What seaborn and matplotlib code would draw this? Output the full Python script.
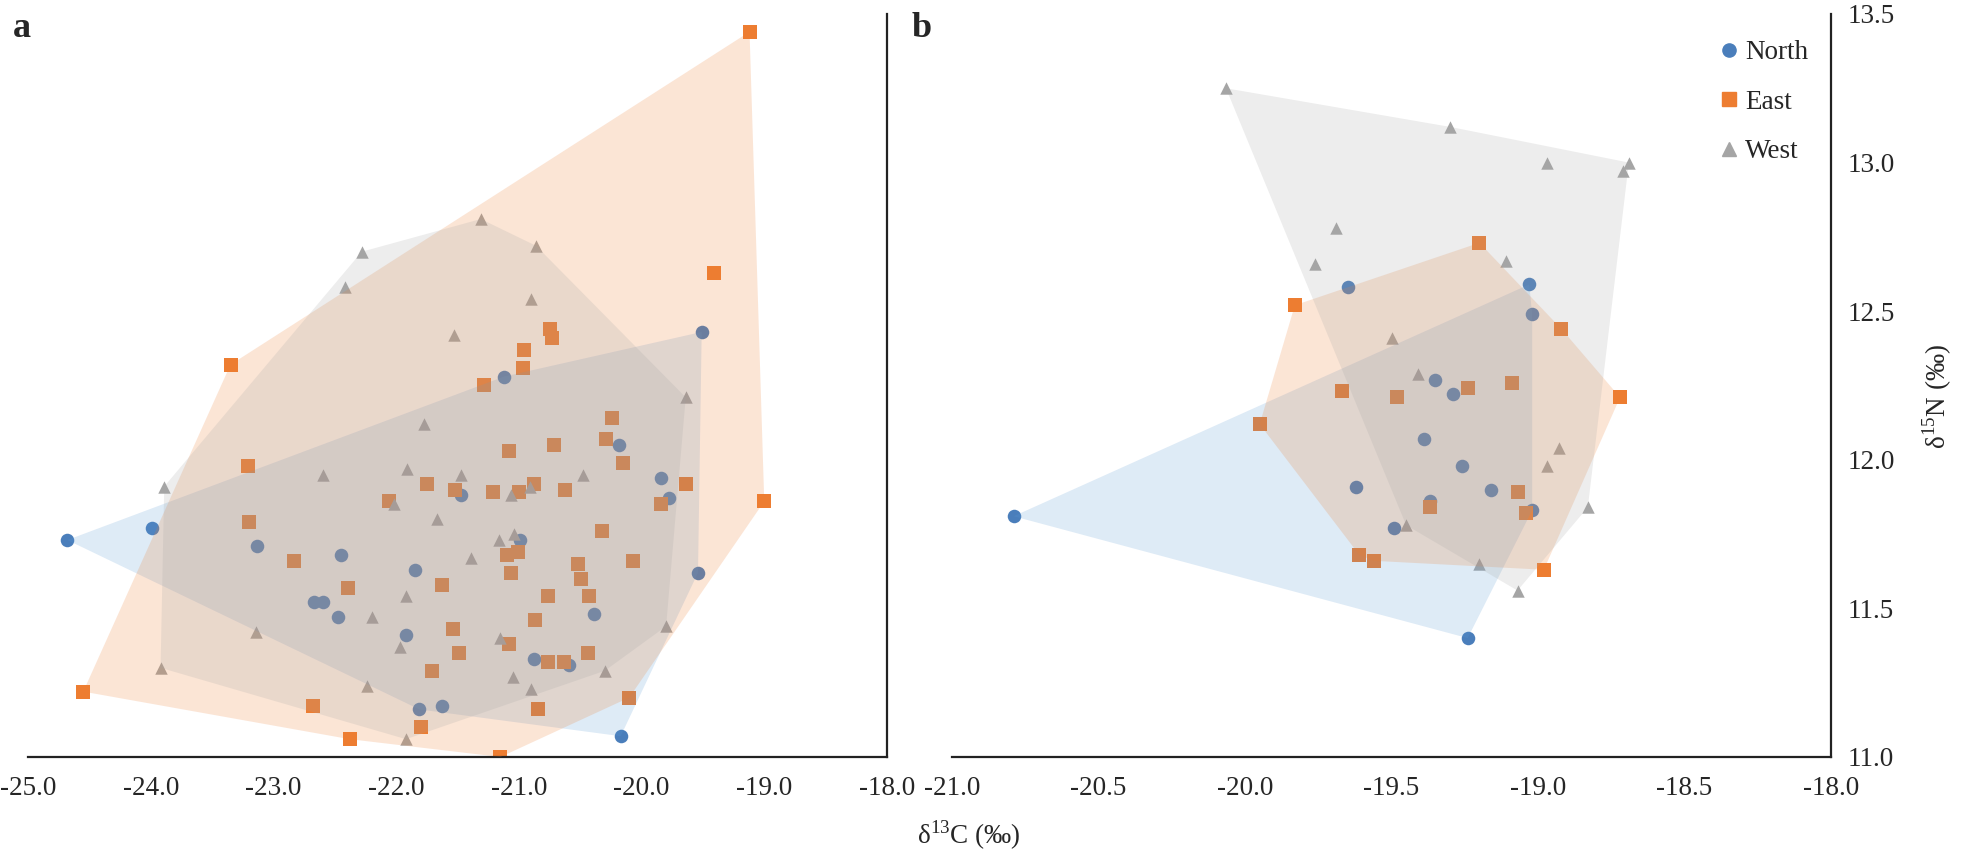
import numpy as np
import pandas as pd
import matplotlib
matplotlib.use('Agg')
import matplotlib.pyplot as plt
from matplotlib.lines import Line2D
from matplotlib.ticker import FormatStrFormatter
import seaborn as sns

# ---- panel a ----
a_north_x = [-24.68, -23.99, -23.13, -22.45, -21.85, -22.67, -22.60, -22.47, -21.92, -21.81, -21.63, -21.47,
             -21.12, -20.99, -20.88, -20.59, -20.39, -20.18, -19.84, -19.78, -19.51, -19.54, -20.17]
a_north_y = [11.73, 11.77, 11.71, 11.68, 11.63, 11.52, 11.52, 11.47, 11.41, 11.16, 11.17, 11.88,
             12.28, 11.73, 11.33, 11.31, 11.48, 12.05, 11.94, 11.87, 12.43, 11.62, 11.07]
a_north_hull = [0, 12, 20, 21, 22, 9]

a_east_x = [-19.12, -19.41, -20.75, -20.73, -20.96, -23.35, -20.97, -21.28, -20.24, -20.29, -20.71, -21.08,
            -20.15, -23.21, -21.75, -21.52, -21.21, -21.00, -20.88, -20.62, -19.64, -19.84, -19.00, -22.06,
            -23.20, -20.32, -21.10, -21.01, -22.83, -20.52, -20.07, -21.06, -20.49, -22.39, -21.63, -20.76,
            -20.43, -20.87, -21.54, -21.08, -21.49, -20.44, -20.76, -20.63, -21.71, -24.55, -20.10, -22.68,
            -20.84, -21.80, -22.38, -21.15]
a_east_y = [13.44, 12.63, 12.44, 12.41, 12.37, 12.32, 12.31, 12.25, 12.14, 12.07, 12.05, 12.03,
            11.99, 11.98, 11.92, 11.90, 11.89, 11.89, 11.92, 11.90, 11.92, 11.85, 11.86, 11.86,
            11.79, 11.76, 11.68, 11.69, 11.66, 11.65, 11.66, 11.62, 11.60, 11.57, 11.58, 11.54,
            11.54, 11.46, 11.43, 11.38, 11.35, 11.35, 11.32, 11.32, 11.29, 11.22, 11.20, 11.17,
            11.16, 11.10, 11.06, 11.00]
a_east_hull = [5, 0, 22, 46, 51, 50, 45]

a_west_x = [-21.31, -20.86, -22.28, -22.42, -20.90, -21.53, -21.77, -19.64, -22.60, -21.91, -21.47, -20.48,
            -23.89, -21.06, -20.91, -22.02, -21.67, -21.04, -21.16, -21.39, -21.92, -22.20, -19.80, -23.14,
            -21.15, -21.97, -20.30, -23.92, -21.05, -22.24, -20.90, -21.92]
a_west_y = [12.81, 12.72, 12.70, 12.58, 12.54, 12.42, 12.12, 12.21, 11.95, 11.97, 11.95, 11.95,
            11.91, 11.88, 11.91, 11.85, 11.80, 11.75, 11.73, 11.67, 11.54, 11.47, 11.44, 11.42,
            11.40, 11.37, 11.29, 11.30, 11.27, 11.24, 11.23, 11.06]
a_west_hull = [12, 2, 0, 1, 7, 22, 26, 31, 27]

# ---- panel b ----
b_north_x = [-20.79, -19.65, -19.03, -19.02, -19.35, -19.29, -19.39, -19.26, -19.62, -19.16, -19.37, -19.02,
             -19.49, -19.24]
b_north_y = [11.81, 12.58, 12.59, 12.49, 12.27, 12.22, 12.07, 11.98, 11.91, 11.90, 11.86, 11.83,
             11.77, 11.40]
b_north_hull = [0, 2, 3, 11, 13]

b_east_x = [-19.95, -19.83, -19.20, -18.92, -18.72, -19.09, -19.24, -19.48, -19.67, -19.07, -19.37, -19.04,
            -19.61, -19.56, -18.98]
b_east_y = [12.12, 12.52, 12.73, 12.44, 12.21, 12.26, 12.24, 12.21, 12.23, 11.89, 11.84, 11.82,
            11.68, 11.66, 11.63]
b_east_hull = [0, 1, 2, 3, 4, 14, 13, 12]

b_west_x = [-20.065, -19.30, -18.97, -18.69, -18.71, -19.69, -19.76, -19.11, -19.50, -19.41, -18.93, -18.97,
            -18.83, -19.45, -19.20, -19.07]
b_west_y = [13.25, 13.12, 13.00, 13.00, 12.97, 12.78, 12.66, 12.67, 12.41, 12.29, 12.04, 11.98,
            11.84, 11.78, 11.65, 11.56]
b_west_hull = [0, 1, 3, 12, 15, 13]

groups = ['North', 'East', 'West']
colors = {'North': '#4A7EBB', 'East': '#ED7D31', 'West': '#A5A5A5'}
fills = {'North': '#5B9BD5', 'East': '#ED7D31', 'West': '#A5A5A5'}
markers = {'North': 'o', 'East': 's', 'West': '^'}
sizes = {'North': 95, 'East': 110, 'West': 80}

sns.set_style('white')
plt.rcParams['font.family'] = ['Liberation Serif', 'DejaVu Serif']
plt.rcParams['mathtext.fontset'] = 'custom'
plt.rcParams['mathtext.rm'] = 'Liberation Serif'
plt.rcParams['axes.unicode_minus'] = False

fig = plt.figure(figsize=(19.61, 8.57), dpi=100)
ax_a = fig.add_axes([0.0143, 0.1167, 0.4380, 0.8670])
ax_b = fig.add_axes([0.4855, 0.1167, 0.4482, 0.8670])

panels = [
    (ax_a, {'North': (a_north_x, a_north_y, a_north_hull),
            'East': (a_east_x, a_east_y, a_east_hull),
            'West': (a_west_x, a_west_y, a_west_hull)}),
    (ax_b, {'North': (b_north_x, b_north_y, b_north_hull),
            'East': (b_east_x, b_east_y, b_east_hull),
            'West': (b_west_x, b_west_y, b_west_hull)}),
]

for ax, data in panels:
    for g in groups:
        xs, ys, hull = data[g]
        df = pd.DataFrame({'d13C': xs, 'd15N': ys})
        sns.scatterplot(data=df, x='d13C', y='d15N', marker=markers[g], color=colors[g],
                        s=sizes[g], linewidth=0, ax=ax, legend=False, zorder=2)
    # shaded group areas drawn over the points
    for g in groups:
        xs, ys, hull = data[g]
        ax.fill([xs[i] for i in hull], [ys[i] for i in hull], color=fills[g], alpha=0.2,
                linewidth=0, zorder=3)

ax_a.set_xlim(-25, -18)
ax_b.set_xlim(-21, -18)
for ax in (ax_a, ax_b):
    ax.set_ylim(11.0, 13.5)
    ax.set_xlabel('')
    ax.set_ylabel('')
    for side in ['left', 'top']:
        ax.spines[side].set_visible(False)
    for side in ['right', 'bottom']:
        ax.spines[side].set_color('#222222')
        ax.spines[side].set_linewidth(1.6)
    ax.tick_params(length=0, labelsize=19.5)
    ax.tick_params(axis='x', pad=14)
    ax.xaxis.set_major_formatter(FormatStrFormatter('%.1f'))

ax_a.set_xticks(np.arange(-25, -17.9, 1.0))
ax_a.set_yticks([])
ax_b.set_xticks(np.arange(-21, -17.9, 0.5))
ax_b.set_yticks(np.arange(11.0, 13.51, 0.5))
ax_b.yaxis.set_major_formatter(FormatStrFormatter('%.1f'))
ax_b.yaxis.tick_right()
ax_b.tick_params(axis='y', pad=12)

handles = [Line2D([], [], marker=markers[g], color=colors[g], linestyle='', markersize=9.5) for g in groups]
ax_b.legend(handles, groups, loc='upper left', bbox_to_anchor=(0.847, 0.99), frameon=False,
            fontsize=19.5, handletextpad=0.1, labelspacing=0.9, handlelength=1.0, borderaxespad=0.3)

fig.text(0.011, 0.967, 'a', fontsize=26, fontweight='bold', ha='center', va='center')
fig.text(0.470, 0.967, 'b', fontsize=26, fontweight='bold', ha='center', va='center')
fig.text(0.494, 0.026, r'δ$^{13}$C (‰)', fontsize=19.5, ha='center', va='center')
fig.text(0.988, 0.537, r'δ$^{15}$N (‰)', fontsize=19.5, ha='center', va='center', rotation=90)

fig.savefig('out.png', dpi=100)
